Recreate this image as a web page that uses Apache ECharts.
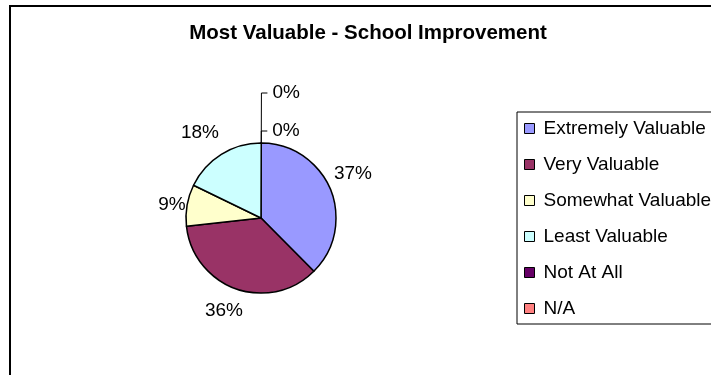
<!DOCTYPE html>
<html>
<head>
<meta charset="utf-8">
<script src="https://cdn.jsdelivr.net/npm/echarts@6/dist/echarts.min.js"></script>
<style>
html, body { margin: 0; padding: 0; background: #fff; }
#chart { width: 711px; height: 375px; }
</style>
</head>
<body>
<div id="chart"></div>
<script>
// data
var categories = ['Extremely Valuable', 'Very Valuable', 'Somewhat Valuable', 'Least Valuable', 'Not At All', 'N/A'];
var responses = [21, 20, 5, 10, 0, 0];

// old excel palette
var sliceColors = ['#9999ff', '#993366', '#ffffcc', '#ccffff', '#660066', '#ff8080'];

// where excel put the % labels (text centres)
var labelSpots = {
    'Extremely Valuable': [353, 174],
    'Very Valuable': [224, 311],
    'Somewhat Valuable': [172, 205],
    'Least Valuable': [200, 133]
};
// leader lines for the 0% slices
var leaderLen = {
    'Not At All': 12,
    'N/A': 50
};

var font = 'Liberation Sans, Arial, sans-serif';

var myChart = echarts.init(document.getElementById('chart'));

// zero slices go first; start a hair right of 12 o'clock so their labels sit on the right
var order = [4, 5, 0, 1, 2, 3];
var pieData = [];
for (let k = 0; k < order.length; k++) {
    let i = order[k];
    let name = categories[i];
    let item = {
        name: name,
        value: responses[i],
        itemStyle: { color: sliceColors[i] }
    };
    if (leaderLen[name] != null) {
        item.labelLine = { show: true, length: leaderLen[name], length2: 6 };
    } else {
        item.labelLine = { show: false };
    }
    pieData.push(item);
}

var option = {
    animation: false,
    backgroundColor: '#fff',
    title: {
        text: 'Most Valuable - School Improvement',
        left: 368,
        top: 23,
        padding: 0,
        textAlign: 'center',
        textStyle: {
            fontFamily: font,
            fontSize: 20.5,
            fontWeight: 'bold',
            color: '#000'
        }
    },
    legend: {
        orient: 'vertical',
        left: 517,
        top: 112,
        padding: [7, 30, 6, 7],
        itemGap: 17,
        itemWidth: 10,
        itemHeight: 10,
        icon: 'rect',
        borderColor: '#000',
        borderWidth: 1,
        data: categories,
        itemStyle: { borderColor: '#000', borderWidth: 1 },
        textStyle: {
            fontFamily: font,
            fontSize: 19,
            color: '#000',
            padding: [0, 0, 0, 4]
        }
    },
    graphic: [{
        // chart area frame, runs off the right and bottom
        type: 'rect',
        silent: true,
        shape: { x: 10, y: 6, width: 740, height: 420 },
        style: { fill: null, stroke: '#000', lineWidth: 2 }
    }],
    series: [{
        type: 'pie',
        center: [261, 218],
        radius: 75,
        startAngle: 89.8,
        clockwise: true,
        avoidLabelOverlap: false,
        percentPrecision: 0,
        itemStyle: { borderColor: '#000', borderWidth: 1.5 },
        label: {
            show: true,
            position: 'outside',
            formatter: '{d}%',
            fontFamily: font,
            fontSize: 19,
            color: '#000'
        },
        labelLine: {
            lineStyle: { color: '#000', width: 1 }
        },
        labelLayout: function (p) {
            let spot = labelSpots[categories[order[p.dataIndex]]];
            if (!spot) return {};
            return { x: spot[0], y: spot[1], align: 'center', verticalAlign: 'middle' };
        },
        emphasis: { disabled: true },
        data: pieData
    }]
};
myChart.setOption(option);
</script>
</body>
</html>
